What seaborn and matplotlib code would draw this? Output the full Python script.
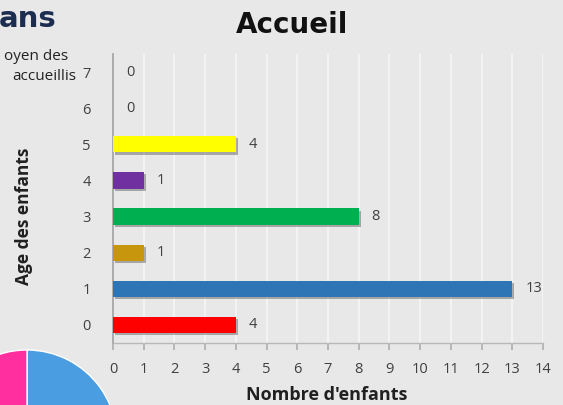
import matplotlib
matplotlib.use("Agg")
import matplotlib.pyplot as plt
import matplotlib.patheffects as pe
import seaborn as sns
import pandas as pd

# ---- data ----
ages = ["7", "6", "5", "4", "3", "2", "1", "0"]
counts = [0, 0, 4, 1, 8, 1, 13, 4]
bar_colors = ["#808080", "#808080", "#ffff00", "#7030a0", "#00b050", "#c8960c", "#2e75b6", "#ff0000"]
x_ticks = list(range(0, 15))
pie_values = [60, 40]
pie_colors = ["#4a9de0", "#ff2fa0"]

bg = "#e8e8e8"
sns.set_theme(style="white")
plt.rcParams["font.family"] = ["Open Sans", "DejaVu Sans"]

fig = plt.figure(figsize=(5.63, 4.05), dpi=100, facecolor=bg)
ax = fig.add_axes([113 / 563, 1 - 343 / 405, 430 / 563, 289 / 405])
ax.set_facecolor(bg)

df = pd.DataFrame({"age": ages, "n": counts})
sns.barplot(data=df, x="n", y="age", hue="age", order=ages, hue_order=ages,
            palette=dict(zip(ages, bar_colors)), legend=False, width=0.45,
            saturation=1, orient="h", ax=ax, zorder=3)
for p in ax.patches:
    p.set_path_effects([pe.SimplePatchShadow(offset=(1.5, -1.5), shadow_rgbFace="#555555", alpha=0.45),
                        pe.Normal()])
    p.set_edgecolor("none")

for i, v in enumerate(counts):
    ax.text(v + 0.42, i, str(v), va="center", ha="left",
            fontsize=10.5, color="#404040", zorder=4)

ax.set_xlim(0, 14)
ax.set_ylim(7.5, -0.5)
ax.set_xticks(x_ticks)
ax.set_xticklabels([str(t) for t in x_ticks], fontsize=10.5, color="#404040")
ax.tick_params(axis="y", labelsize=10.5, labelcolor="#404040", length=0, pad=16)
ax.tick_params(axis="x", length=5, color="#b0b0b0", direction="out", pad=9, bottom=True)
ax.grid(axis="x", color="#f6f6f6", linewidth=1.2, zorder=0)
ax.set_axisbelow(True)
for s in ["top", "right"]:
    ax.spines[s].set_visible(False)
ax.spines["left"].set_color("#a0a0a0")
ax.spines["bottom"].set_color("#b8b8b8")
ax.spines["left"].set_linewidth(1.2)
ax.spines["bottom"].set_linewidth(1.0)

ax.set_xlabel("")
ax.set_ylabel("")
fig.text(327 / 563, 1 - 395 / 405, "Nombre d'enfants", fontsize=13, fontweight="bold",
         color="#202020", ha="center", va="center")
fig.text(24 / 563, 1 - 216 / 405, "Age des enfants", rotation=90, fontsize=12.5,
         fontweight="bold", color="#202020", ha="center", va="center")

fig.text(292 / 563, 1 - 25 / 405, "Accueil", fontsize=20, fontweight="bold",
         color="#111111", ha="center", va="center", family=["DejaVu Sans"])

# fragments of surrounding slide
fig.text(57 / 563, 1 - 27 / 405, "ans", fontsize=21, fontweight="bold",
         color="#1c2d50", ha="right", va="baseline", family=["DejaVu Sans"])
fig.text(68 / 563, 1 - 57 / 405, "oyen des", fontsize=11, color="#222222", ha="right", va="center")
fig.text(76 / 563, 1 - 77 / 405, "accueillis", fontsize=11, color="#222222", ha="right", va="center")

pax = fig.add_axes([(27 - 90) / 563, 1 - (440 + 90) / 405, 180 / 563, 180 / 405])
pax.pie(pie_values, colors=pie_colors, startangle=90, counterclock=False)
pax.set_xlim(-1, 1)
pax.set_ylim(-1, 1)
pax.set_aspect("equal")
pax.axis("off")

fig.savefig("out.png", dpi=100, facecolor=bg)
